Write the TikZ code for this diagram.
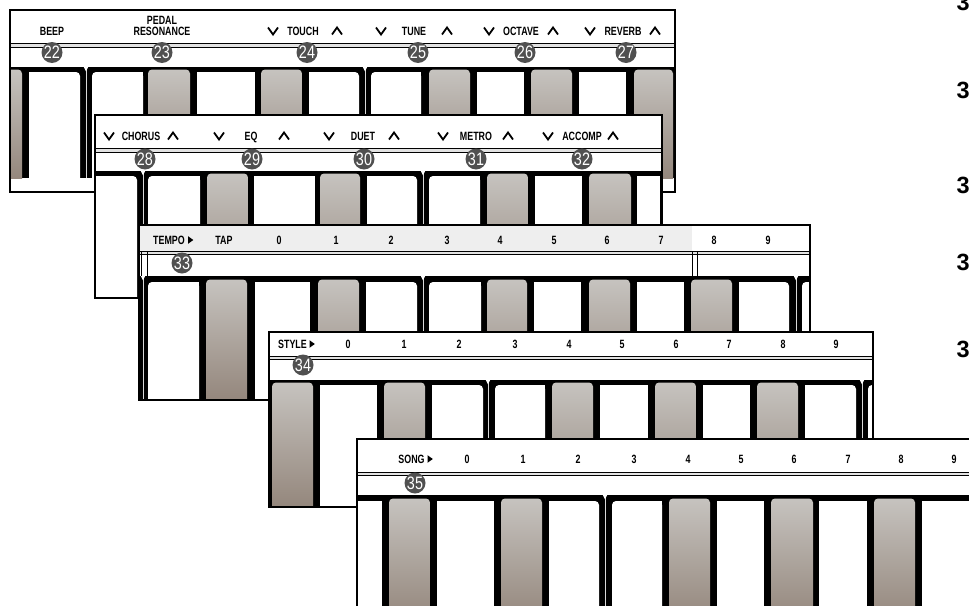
\documentclass[tikz,border=0pt]{standalone}
\usepackage{fontspec}
\newfontfamily\lblfont{Liberation Sans}[FakeStretch=0.74]
\newfontfamily\badgefont{Liberation Sans}[FakeStretch=0.8]
\newfontfamily\bigfont{Liberation Sans}
\definecolor{keytop}{HTML}{C6C3BF}
\definecolor{keybot}{HTML}{918378}
\definecolor{badgegray}{HTML}{505050}
\definecolor{rowgray}{HTML}{EEEEEE}
\definecolor{dlfill}{HTML}{E2E2E2}
\tikzset{
  lbl/.style={font={\lblfont\bfseries\fontsize{12}{12}\selectfont}, anchor=base, inner sep=0pt},
  badge/.style={circle, fill=badgegray, minimum size=21pt, inner sep=0pt, text=white,
    font={\badgefont\fontsize{18}{18}\selectfont}},
  big/.style={font={\bigfont\bfseries\fontsize{23.5}{24}\selectfont}, anchor=base west, inner sep=0pt},
  chev/.style={line width=1.8pt, line join=miter},
  panelborder/.style={line width=2pt},
  keyshade/.style={top color=keytop, bottom color=keybot, rounded corners=4pt},
}
\newcommand\DL[4]{\fill[dlfill] (#1,#3) rectangle (#2,#4);
  \draw[line width=0.9pt] (#1,#3) -- (#2,#3) (#1,#4) -- (#2,#4);}
\newcommand\chevdn[2]{\draw[chev] (#1-5,#2-3.5) -- (#1,#2+3.5) -- (#1+5,#2-3.5);}
\newcommand\chevup[2]{\draw[chev] (#1-5,#2+3.5) -- (#1,#2-3.5) -- (#1+5,#2+3.5);}
\newcommand\tri[2]{\fill (#1-2.5,#2-3.8) -- (#1+2.8,#2) -- (#1-2.5,#2+3.8) -- cycle;}
\newcommand\WK[2]{\fill[white] (#1,\kt) rectangle (#2,\kb);}
\newcommand\WL[2]{\fill[white,rounded corners=4pt] (#1,\kt) rectangle (#2,\kb+8);
  \fill[white] (#1+6,\kt) rectangle (#2,\kb);}
\newcommand\WR[2]{\fill[white,rounded corners=4pt] (#1,\kt) rectangle (#2,\kb+8);
  \fill[white] (#1,\kt) rectangle (#2-6,\kb);}
\newcommand\GK[2]{\shade[keyshade] (#1,\kt-2.5) rectangle (#2,\kb+8);}
\newcommand\MK[1]{\draw[white!85!black,line width=0.7pt] (#1,\bt) -- (#1,\kb);
  \fill[white] (#1-2.2,\bt) -- (#1+2.2,\bt) -- (#1,\bt+4.5) -- cycle;}
\begin{document}
\begin{tikzpicture}[x=1pt,y=-1pt]
\useasboundingbox (0,0) rectangle (969,605);
\fill[white] (0,0) rectangle (969,605);

% right side numbers
\node[big] (r1) at (956.5,10) {3};
\node[big] (r2) at (956.5,98) {3};
\node[big] (r3) at (956.5,193) {3};
\node[big] (r4) at (956.5,270) {3};
\node[big] (r5) at (956.5,357) {3};

% ================= PANEL 1
\begin{scope}
\clip (10,10) rectangle (675,192);
\fill[white] (10,10) rectangle (675,192);
\DL{10}{675}{43.3}{47.3}
\node[lbl] (beep) at (52,35.3) {BEEP};
\node[lbl] (pedal) at (162,24) {PEDAL};
\node[lbl] (reso) at (162,35.3) {RESONANCE};
\chevdn{273}{31} \node[lbl] (touch) at (303,35.3) {TOUCH}; \chevup{337}{31}
\chevdn{381}{31} \node[lbl] (tune) at (414,35.3) {TUNE}; \chevup{447}{31}
\chevdn{489}{31} \node[lbl] (octave) at (521,35.3) {OCTAVE}; \chevup{553}{31}
\chevdn{590}{31} \node[lbl] (reverb) at (623,35.3) {REVERB}; \chevup{655}{31}
\def\bt{67}\def\kt{72}\def\kb{178}
\begin{scope}
\clip (0,\bt) rectangle (675,\kb);
\fill[black] (0,\bt) rectangle (675,\kb);
\GK{0}{22} \WR{29}{80} \MK{86} \WL{92}{143} \GK{148}{190} \WK{197}{255}
\GK{261}{302} \WR{309}{359} \MK{365} \WL{371}{421} \GK{429}{470} \WK{477}{524}
\GK{531}{572} \WK{579}{626} \GK{634}{673}
\end{scope}
\node[badge] (b22) at (52,52.5) {22};
\node[badge] (b23) at (162,52.5) {23};
\node[badge] (b24) at (307,52.5) {24};
\node[badge] (b25) at (418,52.5) {25};
\node[badge] (b26) at (525,52.5) {26};
\node[badge] (b27) at (626,52.5) {27};
\end{scope}
\draw[panelborder] (10,10) rectangle (675,192);

% ================= PANEL 2
\begin{scope}
\clip (95,115) rectangle (662,298);
\fill[white] (95,115) rectangle (662,298);
\DL{95}{662}{148}{152}
\chevdn{109}{136} \node[lbl] (chorus) at (141,140.3) {CHORUS}; \chevup{173}{136}
\chevdn{219}{136} \node[lbl] (eq) at (251,140.3) {EQ}; \chevup{284}{136}
\chevdn{329}{136} \node[lbl] (duet) at (363,140.3) {DUET}; \chevup{394}{136}
\chevdn{443}{136} \node[lbl] (metro) at (476,140.3) {METRO}; \chevup{508}{136}
\chevdn{548}{136} \node[lbl] (accomp) at (582,140.3) {ACCOMP}; \chevup{613}{136}
\def\bt{171}\def\kt{176}\def\kb{298}
\begin{scope}
\clip (95,\bt) rectangle (662,\kb);
\fill[black] (95,\bt) rectangle (662,\kb);
\WR{85}{137} \MK{143} \WL{148}{200} \GK{207}{248} \WK{254}{315} \GK{320}{360}
\WR{367}{417} \MK{423} \WL{429}{480} \GK{487}{528} \WK{535}{582} \GK{589}{631}
\WK{637}{660}
\end{scope}
\node[badge] (b28) at (145,159) {28};
\node[badge] (b29) at (252,159) {29};
\node[badge] (b30) at (364,159) {30};
\node[badge] (b31) at (476,159) {31};
\node[badge] (b32) at (582,159) {32};
\end{scope}
\draw[panelborder] (95,115) rectangle (662,298);

% ================= PANEL 3
\begin{scope}
\clip (139,225) rectangle (810,400);
\fill[white] (139,225) rectangle (810,400);
\fill[rowgray] (139,225) rectangle (692,251);
\DL{139}{810}{251}{254}
\draw[line width=0.6pt] (141,251) rectangle (147.5,277);
\draw[line width=0.6pt] (692,251) rectangle (697.5,277);
\node[lbl] (tempo) at (169,244.3) {TEMPO}; \tri{190.5}{240}
\node[lbl] (tap) at (224,244.3) {TAP};
\node[lbl] (t0) at (279,244.3) {0};
\node[lbl] (t1) at (336,244.3) {1};
\node[lbl] (t2) at (391,244.3) {2};
\node[lbl] (t3) at (447,244.3) {3};
\node[lbl] (t4) at (500,244.3) {4};
\node[lbl] (t5) at (554,244.3) {5};
\node[lbl] (t6) at (607,244.3) {6};
\node[lbl] (t7) at (661,244.3) {7};
\node[lbl] (t8) at (714,244.3) {8};
\node[lbl] (t9) at (768,244.3) {9};
\def\bt{276}\def\kt{282}\def\kb{400}
\begin{scope}
\clip (139,\bt) rectangle (810,\kb);
\fill[black] (139,\bt) rectangle (810,\kb);
\MK{143} \WL{148}{199} \GK{206}{247} \WK{255}{310} \GK{318}{359} \WR{366}{417}
\MK{423} \WL{429}{481} \GK{487}{527} \WK{534}{581} \GK{589}{630} \WK{637}{684}
\GK{691}{732} \WR{739}{789} \MK{796} \WL{802}{840}
\end{scope}
\node[badge] (b33) at (182,263) {33};
\end{scope}
\draw[panelborder] (139,225) rectangle (810,400);

% ================= PANEL 4
\begin{scope}
\clip (269,332) rectangle (873,507);
\fill[white] (269,332) rectangle (873,507);
\DL{269}{873}{356}{359}
\node[lbl] (style) at (292.5,348.3) {STYLE}; \tri{312}{344}
\node[lbl] (s0) at (348,348.3) {0};
\node[lbl] (s1) at (404,348.3) {1};
\node[lbl] (s2) at (459,348.3) {2};
\node[lbl] (s3) at (515,348.3) {3};
\node[lbl] (s4) at (569,348.3) {4};
\node[lbl] (s5) at (622,348.3) {5};
\node[lbl] (s6) at (676,348.3) {6};
\node[lbl] (s7) at (729,348.3) {7};
\node[lbl] (s8) at (783,348.3) {8};
\node[lbl] (s9) at (836,348.3) {9};
\def\bt{380}\def\kt{385}\def\kb{507}
\begin{scope}
\clip (269,\bt) rectangle (873,\kb);
\fill[black] (269,\bt) rectangle (873,\kb);
\GK{272}{313} \WK{320}{377} \GK{384}{425} \WR{432}{483} \MK{488} \WL{495}{545}
\GK{552}{593} \WK{600}{648} \GK{655}{696} \WK{703}{750} \GK{757}{798}
\WR{805}{856} \MK{862} \WL{868}{900}
\end{scope}
\node[badge] (b34) at (303,365) {34};
\end{scope}
\draw[panelborder] (269,332) rectangle (873,507);

% ================= PANEL 5
\begin{scope}
\clip (357,439) rectangle (985,620);
\fill[white] (357,439) rectangle (985,620);
\DL{357}{985}{472}{475}
\node[lbl] (song) at (411.5,463.3) {SONG}; \tri{430}{459}
\node[lbl] (g0) at (467,463.3) {0};
\node[lbl] (g1) at (523,463.3) {1};
\node[lbl] (g2) at (578,463.3) {2};
\node[lbl] (g3) at (634,463.3) {3};
\node[lbl] (g4) at (688,463.3) {4};
\node[lbl] (g5) at (741,463.3) {5};
\node[lbl] (g6) at (794,463.3) {6};
\node[lbl] (g7) at (848,463.3) {7};
\node[lbl] (g8) at (901,463.3) {8};
\node[lbl] (g9) at (954,463.3) {9};
\def\bt{495}\def\kt{501}\def\kb{620}
\begin{scope}
\clip (357,\bt) rectangle (985,\kb);
\fill[black] (357,\bt) rectangle (985,\kb);
\WK{350}{382} \GK{389}{430} \WK{437}{494} \GK{501}{542} \WR{549}{599} \MK{605}
\WL{612}{662} \GK{669}{710} \WK{717}{764} \GK{771}{813} \WK{819}{867}
\GK{874}{915} \WK{922}{990}
\end{scope}
\node[badge] (b35) at (415,483) {35};
\end{scope}
\draw[panelborder] (357,439) rectangle (985,620);
\end{tikzpicture}
\end{document}
